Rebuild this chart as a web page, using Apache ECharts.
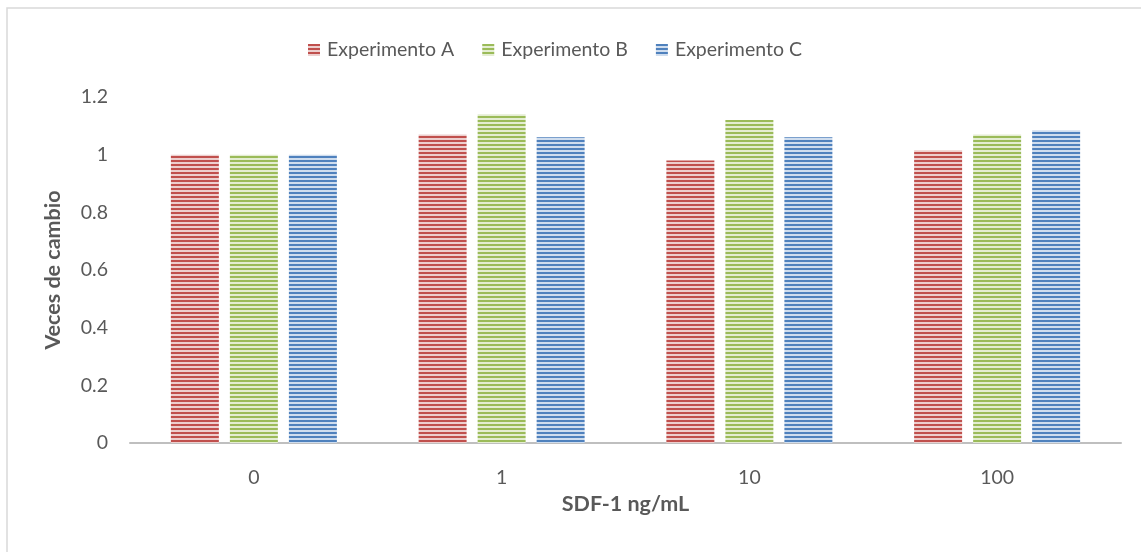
<!DOCTYPE html>
<html><head><meta charset="utf-8">
<script src="https://cdn.jsdelivr.net/npm/echarts@6/dist/echarts.min.js"></script>
<style>html,body{margin:0;padding:0;background:#fff}#c{width:1141px;height:552px}</style>
</head><body><div id="c"></div>
<script>
const categories = ['0', '1', '10', '100'];
const seriesNames = ['Experimento A', 'Experimento B', 'Experimento C'];
const expA = [1.0, 1.07, 0.98, 1.015];
const expB = [1.0, 1.14, 1.12, 1.07];
const expC = [1.0, 1.06, 1.06, 1.085];
const yTicks = [0, 0.2, 0.4, 0.6, 0.8, 1, 1.2];

function stripe(dark, light) {
  const c = document.createElement('canvas');
  c.width = 4; c.height = 4;
  const g = c.getContext('2d');
  g.fillStyle = light; g.fillRect(0, 0, 4, 4);
  g.fillStyle = dark; g.fillRect(0, 0, 4, 2);
  return { image: c, repeat: 'repeat' };
}
const pats = [
  stripe('#C0504D', '#EDCFCE'),
  stripe('#9BBB59', '#E4EDD2'),
  stripe('#4F81BD', '#CFDDEE')
];
const data = [expA, expB, expC];
const font = 'Lato, Open Sans, sans-serif';
const fs = 19.5;
const tfs = 21.5;

const chart = echarts.init(document.getElementById('c'), null, { renderer: 'canvas' });
chart.setOption({
  animation: false,
  backgroundColor: '#fff',
  graphic: [{ type: 'rect', shape: { x: 7, y: 8, width: 1200, height: 600 }, style: { fill: 'none', stroke: '#D9D9D9', lineWidth: 1.5 }, silent: true }],
  legend: {
    top: 35, left: 303, itemWidth: 12, itemHeight: 12, itemGap: 28,
    icon: 'rect',
    textStyle: { color: '#595959', fontSize: fs, fontFamily: font, padding: [0, 0, 0, 2] },
    data: seriesNames
  },
  grid: { left: 130, right: 20, top: 97, bottom: 109, containLabel: false },
  xAxis: {
    type: 'category', data: categories,
    axisLine: { lineStyle: { color: '#BFBFBF', width: 2 } },
    axisTick: { show: false },
    axisLabel: { color: '#595959', fontSize: fs, fontFamily: font, margin: 25 },
    name: 'SDF-1 ng/mL', nameLocation: 'middle', nameGap: 50,
    nameTextStyle: { color: '#595959', fontSize: tfs, fontWeight: 'bold', fontFamily: font }
  },
  yAxis: {
    type: 'value', min: 0, max: 1.2, interval: 0.2,
    axisLine: { show: false }, axisTick: { show: false }, splitLine: { show: false },
    axisLabel: { color: '#595959', fontSize: fs, fontFamily: font, margin: 22,
      formatter: v => { const t = yTicks.find(x => Math.abs(x - v) < 1e-9); return t === undefined ? '' : String(t); } },
    name: 'Veces de cambio', nameLocation: 'middle', nameGap: 66, nameRotate: 90,
    nameTextStyle: { color: '#595959', fontSize: tfs, fontWeight: 'bold', fontFamily: font }
  },
  series: seriesNames.map((n, i) => ({
    name: n, type: 'bar', data: data[i],
    barGap: '23%', barCategoryGap: '33%',
    itemStyle: { color: pats[i] }
  }))
});
</script></body></html>
